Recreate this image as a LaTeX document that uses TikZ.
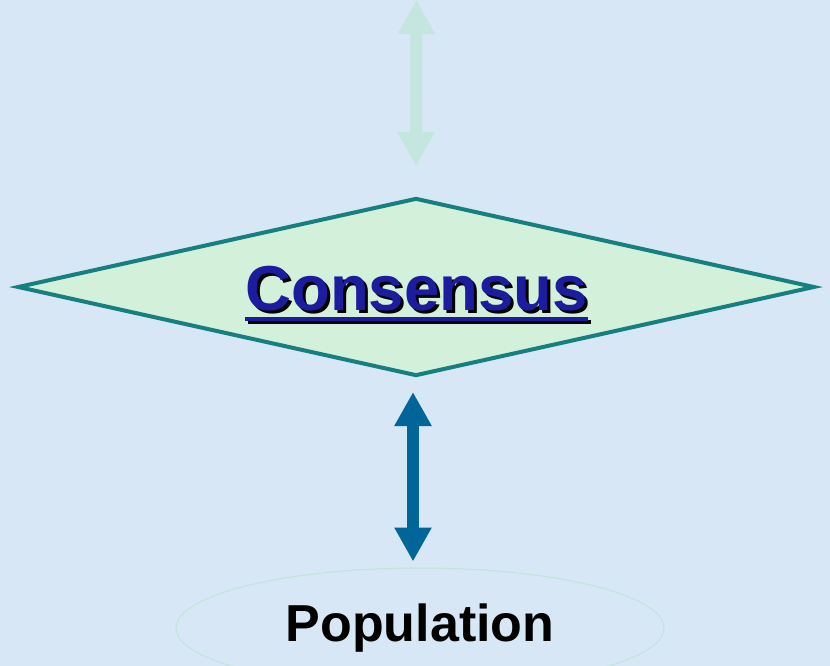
\documentclass[tikz,border=0pt]{standalone}
\usepackage{fontspec}
\setmainfont{Liberation Sans}
\usetikzlibrary{shapes.geometric,arrows.meta}
\definecolor{bgblue}{HTML}{D7E7F5}
\definecolor{diafill}{HTML}{D3F0DB}
\definecolor{diaedge}{HTML}{168080}
\definecolor{txtblue}{HTML}{1C1C9E}
\definecolor{palearrow}{HTML}{C4E6DF}
\definecolor{darkarrow}{HTML}{00669A}
\definecolor{elledge}{HTML}{C0E4DB}
\newcommand\constext{\vtop{\hbox{\fontsize{63.5}{63.5}\selectfont\bfseries Consensus}\kern6pt\hrule height 4pt}}
\tikzset{
  diabox/.style={diamond, draw=diaedge, fill=diafill, line width=4pt, minimum width=797pt, minimum height=178pt, aspect=4.49, inner sep=0pt},
  dblarrow/.style={line width=12pt, {Triangle[length=34pt,width=35pt]}-{Triangle[length=34pt,width=35pt]}},
  popbox/.style={ellipse, draw=elledge, line width=1pt, minimum width=488pt, minimum height=120pt, inner sep=0pt, font=\fontsize{52}{52}\selectfont\bfseries}
}
\begin{document}
\begin{tikzpicture}[x=1pt,y=-1pt]
\fill[bgblue] (0,0) rectangle (830,666);
\useasboundingbox (0,0) rectangle (830,666);
\node[diabox] (dia) at (416,287) {};
\node[anchor=base, text=black] (consshadow) at (419.5,313) {\constext};
\node[anchor=base, text=txtblue] (cons) at (416.5,310) {\constext};
\node[popbox] (pop) at (420,628) {Population};
\coordinate (topend) at (416.5,0);
\draw[dblarrow, draw=palearrow, fill=palearrow] (topend) -- ([yshift=30pt]dia.north);
\draw[dblarrow, draw=darkarrow, fill=darkarrow] ([xshift=-3pt,yshift=-14pt]dia.south) -- ([xshift=-7pt,yshift=6pt]pop.north);
\end{tikzpicture}
\end{document}
